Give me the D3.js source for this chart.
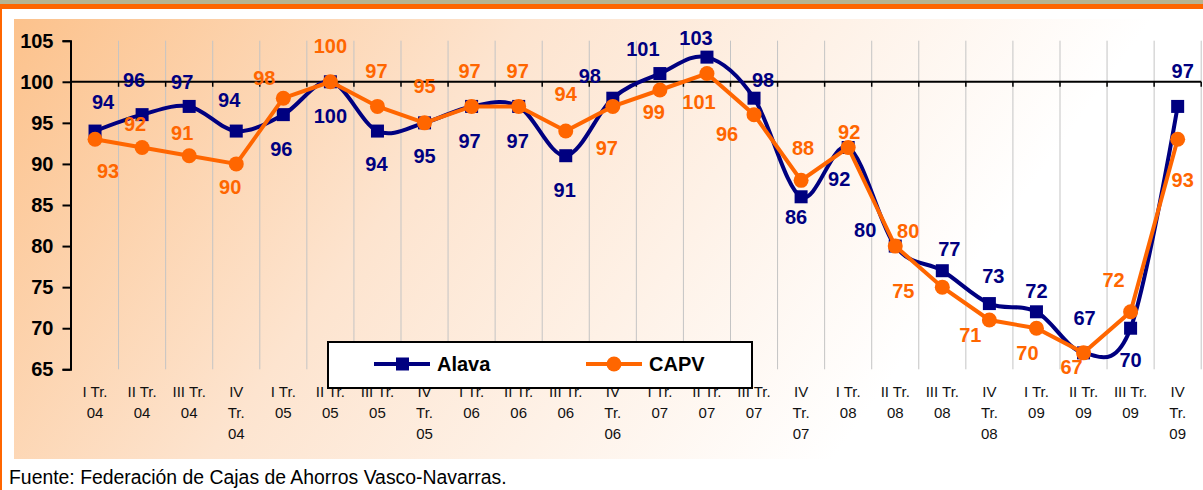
<!DOCTYPE html>
<html>
<head>
<meta charset="utf-8">
<script src="https://cdn.jsdelivr.net/npm/d3@7"></script>
<style>
  body { margin: 0; background: #fff; }
  svg { display: block; font-family: Arial, "Liberation Sans", sans-serif; }
</style>
</head>
<body>
<div id="chart"></div>
<script>
(function() {
  /* Quarterly index, Alava vs CAPV */
  var categories = [
    'I Tr.|04', 'II Tr.|04', 'III Tr.|04', 'IV|Tr.|04',
    'I Tr.|05', 'II Tr.|05', 'III Tr.|05', 'IV|Tr.|05',
    'I Tr.|06', 'II Tr.|06', 'III Tr.|06', 'IV|Tr.|06',
    'I Tr.|07', 'II Tr.|07', 'III Tr.|07', 'IV|Tr.|07',
    'I Tr.|08', 'II Tr.|08', 'III Tr.|08', 'IV|Tr.|08',
    'I Tr.|09', 'II Tr.|09', 'III Tr.|09', 'IV|Tr.|09'
  ];
  var alava = [94, 96, 97, 94, 96, 100, 94, 95, 97, 97, 91, 98,
               101, 103, 98, 86, 92, 80, 77, 73, 72, 67, 70, 97];
  var capv = [93, 92, 91, 90, 98, 100, 97, 95, 97, 97, 94, 97,
              99, 101, 96, 88, 92, 80, 75, 71, 70, 67, 72, 93];
  var yTicks = [65, 70, 75, 80, 85, 90, 95, 100, 105];
  var seriesNames = ['Alava', 'CAPV'];
  var source = 'Fuente: Federación de Cajas de Ahorros Vasco-Navarras.';

  // label placement (offset from the marker, px)
  var alavaLabelOff = [[8,-29],[-8,-35],[-7,-25],[-7,-31],[-2,34],[0,34],[-1,33],[0,33],
                       [-2,34],[-1,34],[-1,34],[-23,-22],[-17,-25],[-11,-19],[9,-18],[-5,20],
                       [-9,31],[-30,-16],[7,-22],[4,-28],[0,-21],[1,-35],[0,32],[5,-36]];
  var capvLabelOff = [[13,32],[-7,-24],[-7,-23],[-6,23],[-19,-20],[0,-36],[-1,-36],[0,-37],
                      [-2,-36],[-1,-36],[0,-37],[-6,41],[-6,22],[-8,28],[-27,19],[2,-33],
                      [1,-16],[13,-15],[-39,4],[-19,15],[-9,25],[-12,14],[-17,-32],[5,41]];

  var navy = '#000080', orange = '#ff6600';
  var W = 1203, H = 490;

  function translate(x, y) {
    return 'translate(' + x + ',' + y + ')';
  }

  var x = d3.scaleBand()
      .domain(d3.range(categories.length))
      .range([71.5, 1201.2]);
  var y = d3.scaleLinear()
      .domain([65, 105])
      .range([369.3, 40.7]);
  function cx(i) { return x(i) + x.bandwidth() / 2; }

  var svg = d3.select('#chart').append('svg')
      .attr('width', W)
      .attr('height', H);

  var defs = svg.append('defs');
  var grad = defs.append('linearGradient')
      .attr('id', 'bg')
      .attr('gradientUnits', 'userSpaceOnUse')
      .attr('x1', 14).attr('y1', 19)
      .attr('x2', 760).attr('y2', 560);
  grad.append('stop').attr('offset', 0).attr('stop-color', '#fcc28c');
  grad.append('stop').attr('offset', 0.45).attr('stop-color', '#fde4cf');
  grad.append('stop').attr('offset', 1).attr('stop-color', '#ffffff');

  // frame
  svg.append('rect').attr('width', W).attr('height', 4).attr('fill', '#b8b491');
  svg.append('rect').attr('y', 4).attr('width', W).attr('height', 5).attr('fill', orange);
  svg.append('rect').attr('x', 0).attr('y', 4).attr('width', 2).attr('height', H).attr('fill', orange);
  svg.append('rect')
    .attr('x', 14).attr('y', 19)
    .attr('width', W - 14).attr('height', 440)
    .attr('fill', 'url(#bg)');

  // vertical gridlines at category boundaries
  svg.append('g')
    .selectAll('line')
    .data(d3.range(1, categories.length + 1))
    .join('line')
      .attr('x1', function(k) { return x.range()[0] + k * x.step(); })
      .attr('x2', function(k) { return x.range()[0] + k * x.step(); })
      .attr('y1', y(105)).attr('y2', y(65))
      .attr('stroke', '#c4c4c4')
      .attr('stroke-width', 1);

  // horizontal axis crossing at 100
  var cross = svg.append('g').attr('transform', translate(0, y(100)));
  cross.append('line')
    .attr('x1', 70).attr('x2', x.range()[1])
    .attr('stroke', '#000').attr('stroke-width', 2);
  cross.selectAll('.tk')
    .data(d3.range(1, categories.length + 1))
    .join('line')
      .attr('class', 'tk')
      .attr('x1', function(k) { return x.range()[0] + k * x.step(); })
      .attr('x2', function(k) { return x.range()[0] + k * x.step(); })
      .attr('y1', 0).attr('y2', 5)
      .attr('stroke', '#000').attr('stroke-width', 1.5);

  // y axis
  var yAxis = d3.axisLeft(y)
      .tickValues(yTicks)
      .tickSize(8)
      .tickPadding(9);
  var gy = svg.append('g')
    .attr('transform', translate(70.5, 0))
    .call(yAxis);
  gy.select('.domain').attr('stroke', '#000').attr('stroke-width', 2);
  gy.selectAll('.tick line').attr('stroke', '#000').attr('stroke-width', 2);
  gy.selectAll('.tick text')
    .attr('fill', '#000')
    .style('font-size', '20px')
    .style('font-weight', 'bold')
    .style('font-family', 'Arial, "Liberation Sans", sans-serif');

  // category labels
  var xl = svg.append('g');
  categories.forEach(function(c, i) {
    var t = xl.append('text')
      .attr('text-anchor', 'middle')
      .attr('fill', '#111')
      .style('font-size', '15px');
    c.split('|').forEach(function(part, j) {
      t.append('tspan')
        .attr('x', cx(i))
        .attr('y', 397 + j * 21)
        .text(part);
    });
  });

  // series
  var smooth = d3.line()
      .x(function(d, i) { return cx(i); })
      .y(function(d) { return y(d); })
      .curve(d3.curveCardinal.tension(0));
  var straight = d3.line()
      .x(function(d, i) { return cx(i); })
      .y(function(d) { return y(d); });

  svg.append('path')
    .datum(alava)
    .attr('fill', 'none')
    .attr('stroke', navy)
    .attr('stroke-width', 4)
    .attr('d', smooth);
  svg.append('g').selectAll('rect')
    .data(alava)
    .join('rect')
      .attr('x', function(d, i) { return cx(i) - 6.5; })
      .attr('y', function(d) { return y(d) - 6.5; })
      .attr('width', 13).attr('height', 13)
      .attr('fill', navy);

  svg.append('path')
    .datum(capv)
    .attr('fill', 'none')
    .attr('stroke', orange)
    .attr('stroke-width', 4)
    .attr('d', straight);
  svg.append('g').selectAll('circle')
    .data(capv)
    .join('circle')
      .attr('cx', function(d, i) { return cx(i); })
      .attr('cy', function(d) { return y(d); })
      .attr('r', 7.5)
      .attr('fill', orange);

  // data labels
  function labels(data, off, color) {
    svg.append('g').selectAll('text')
      .data(data)
      .join('text')
        .attr('x', function(d, i) { return cx(i) + off[i][0]; })
        .attr('y', function(d, i) { return y(d) + off[i][1]; })
        .attr('dy', '0.36em')
        .attr('text-anchor', 'middle')
        .attr('fill', color)
        .style('font-size', '20px')
        .style('font-weight', 'bold')
        .text(function(d) { return d; });
  }
  labels(alava, alavaLabelOff, navy);
  labels(capv, capvLabelOff, orange);

  // legend
  var lg = svg.append('g').attr('transform', translate(328, 342));
  lg.append('rect')
    .attr('width', 424).attr('height', 46)
    .attr('fill', '#fff')
    .attr('stroke', '#000').attr('stroke-width', 2);
  var items = lg.selectAll('.item')
    .data(seriesNames)
    .join('g')
      .attr('class', 'item')
      .attr('transform', function(d, i) { return translate(i === 0 ? 46 : 258, 22); });
  items.append('line')
    .attr('x1', 0).attr('x2', 56)
    .attr('stroke', function(d, i) { return i === 0 ? navy : orange; })
    .attr('stroke-width', 4);
  items.each(function(d, i) {
    var g = d3.select(this);
    if (i === 0) {
      g.append('rect').attr('x', 22).attr('y', -6.5).attr('width', 13).attr('height', 13).attr('fill', navy);
    } else {
      g.append('circle').attr('cx', 28).attr('r', 7.5).attr('fill', orange);
    }
  });
  items.append('text')
    .attr('x', 63)
    .attr('dy', '0.36em')
    .attr('fill', '#000')
    .style('font-size', '20px')
    .style('font-weight', 'bold')
    .text(function(d) { return d; });

  // source note
  svg.append('text')
    .attr('x', 9).attr('y', 484)
    .attr('fill', '#000')
    .style('font-size', '19.4px')
    .text(source);
})();
</script>
</body>
</html>
